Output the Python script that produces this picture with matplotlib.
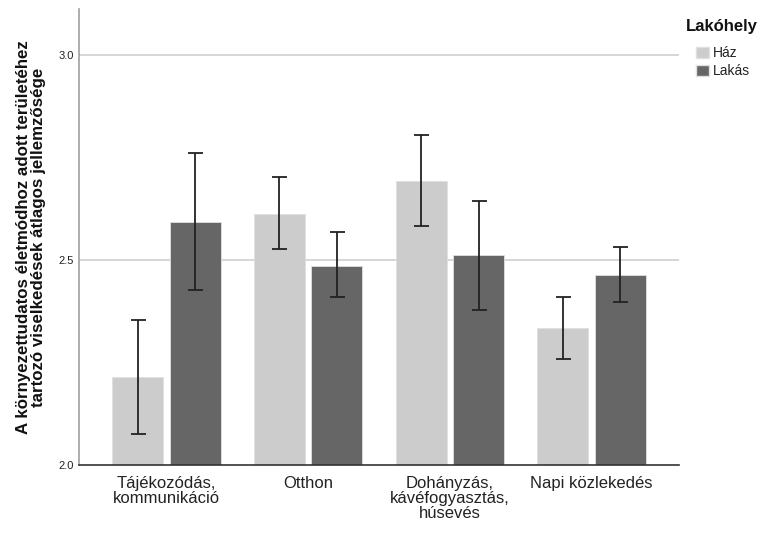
import matplotlib
matplotlib.use("Agg")
import matplotlib.pyplot as plt
import numpy as np
from matplotlib.patches import Patch

plt.rcParams["font.family"] = ["Liberation Sans", "DejaVu Sans"]

categories = ["Tájékozódás,\nkommunikáció", "Otthon", "Dohányzás,\nkávéfogyasztás,\nhúsevés", "Napi közlekedés"]
series_names = ["Ház", "Lakás"]
haz_mean = [2.214, 2.612, 2.693, 2.333]
haz_low = [2.076, 2.526, 2.583, 2.259]
haz_high = [2.354, 2.702, 2.804, 2.410]
lakas_mean = [2.593, 2.486, 2.511, 2.464]
lakas_low = [2.427, 2.409, 2.379, 2.398]
lakas_high = [2.760, 2.568, 2.643, 2.531]
yticks = [2.0, 2.5, 3.0]

colors = ["#cccccc", "#666666"]

fig = plt.figure(figsize=(7.65, 5.36), dpi=100)
ax = fig.add_axes([0.1037, 0.1325, 0.7839, 0.8505])

x = np.arange(len(categories))
off = 0.203
w = 0.36
base = 2.0
for vals, lo, hi, dx, c in [(haz_mean, haz_low, haz_high, -off, colors[0]),
                             (lakas_mean, lakas_low, lakas_high, off, colors[1])]:
    vals = np.array(vals); lo = np.array(lo); hi = np.array(hi)
    ax.bar(x + dx, vals - base, bottom=base, width=w, color=c,
           edgecolor="#e0e0e0", linewidth=0.6, zorder=2)
    ax.errorbar(x + dx, vals, yerr=[vals - lo, hi - vals], fmt="none",
                ecolor="#222222", elinewidth=1.3, capsize=5.4, capthick=1.3, zorder=3)

ax.set_xlim(-0.615, 3.6175)
ax.set_ylim(2.0, 3.112)
ax.set_yticks(yticks)
ax.set_yticklabels([f"{t:.1f}" for t in yticks], fontsize=8, color="#222222")
ax.set_xticks(x)
ax.set_xticklabels(categories, fontsize=12, color="#222222", linespacing=1.0)
ax.tick_params(axis="both", length=0)
ax.tick_params(axis="x", pad=8)
ax.tick_params(axis="y", pad=4)

for t in [2.5, 3.0]:
    ax.axhline(t, color="#cfcfcf", linewidth=1.2, zorder=1)

for s in ["top", "right"]:
    ax.spines[s].set_visible(False)
ax.spines["left"].set_color("#a0a0a0")
ax.spines["left"].set_linewidth(1.2)
ax.spines["bottom"].set_color("#333333")
ax.spines["bottom"].set_linewidth(1.2)

ax.set_ylabel("A környezettudatos életmódhoz adott területéhez\ntartozó viselkedések átlagos jellemzősége",
              fontsize=12.2, fontweight="bold", color="#111111", linespacing=0.95, labelpad=9)

fig.text(686 / 765, 1 - 27 / 536, "Lakóhely", fontsize=12, fontweight="bold",
         color="#111111", ha="left", va="center")
handles = [Patch(facecolor=colors[0], edgecolor="#e0e0e0", label=series_names[0]),
           Patch(facecolor=colors[1], edgecolor="#e0e0e0", label=series_names[1])]
leg = fig.legend(handles=handles, loc="upper left",
                 bbox_to_anchor=(696 / 765, 1 - 46 / 536), frameon=False, fontsize=10,
                 handlelength=0.94, handleheight=0.86, handletextpad=0.3,
                 labelspacing=0.3, borderaxespad=0, borderpad=0)
for t in leg.get_texts():
    t.set_color("#222222")

fig.savefig("out.png", dpi=100)
